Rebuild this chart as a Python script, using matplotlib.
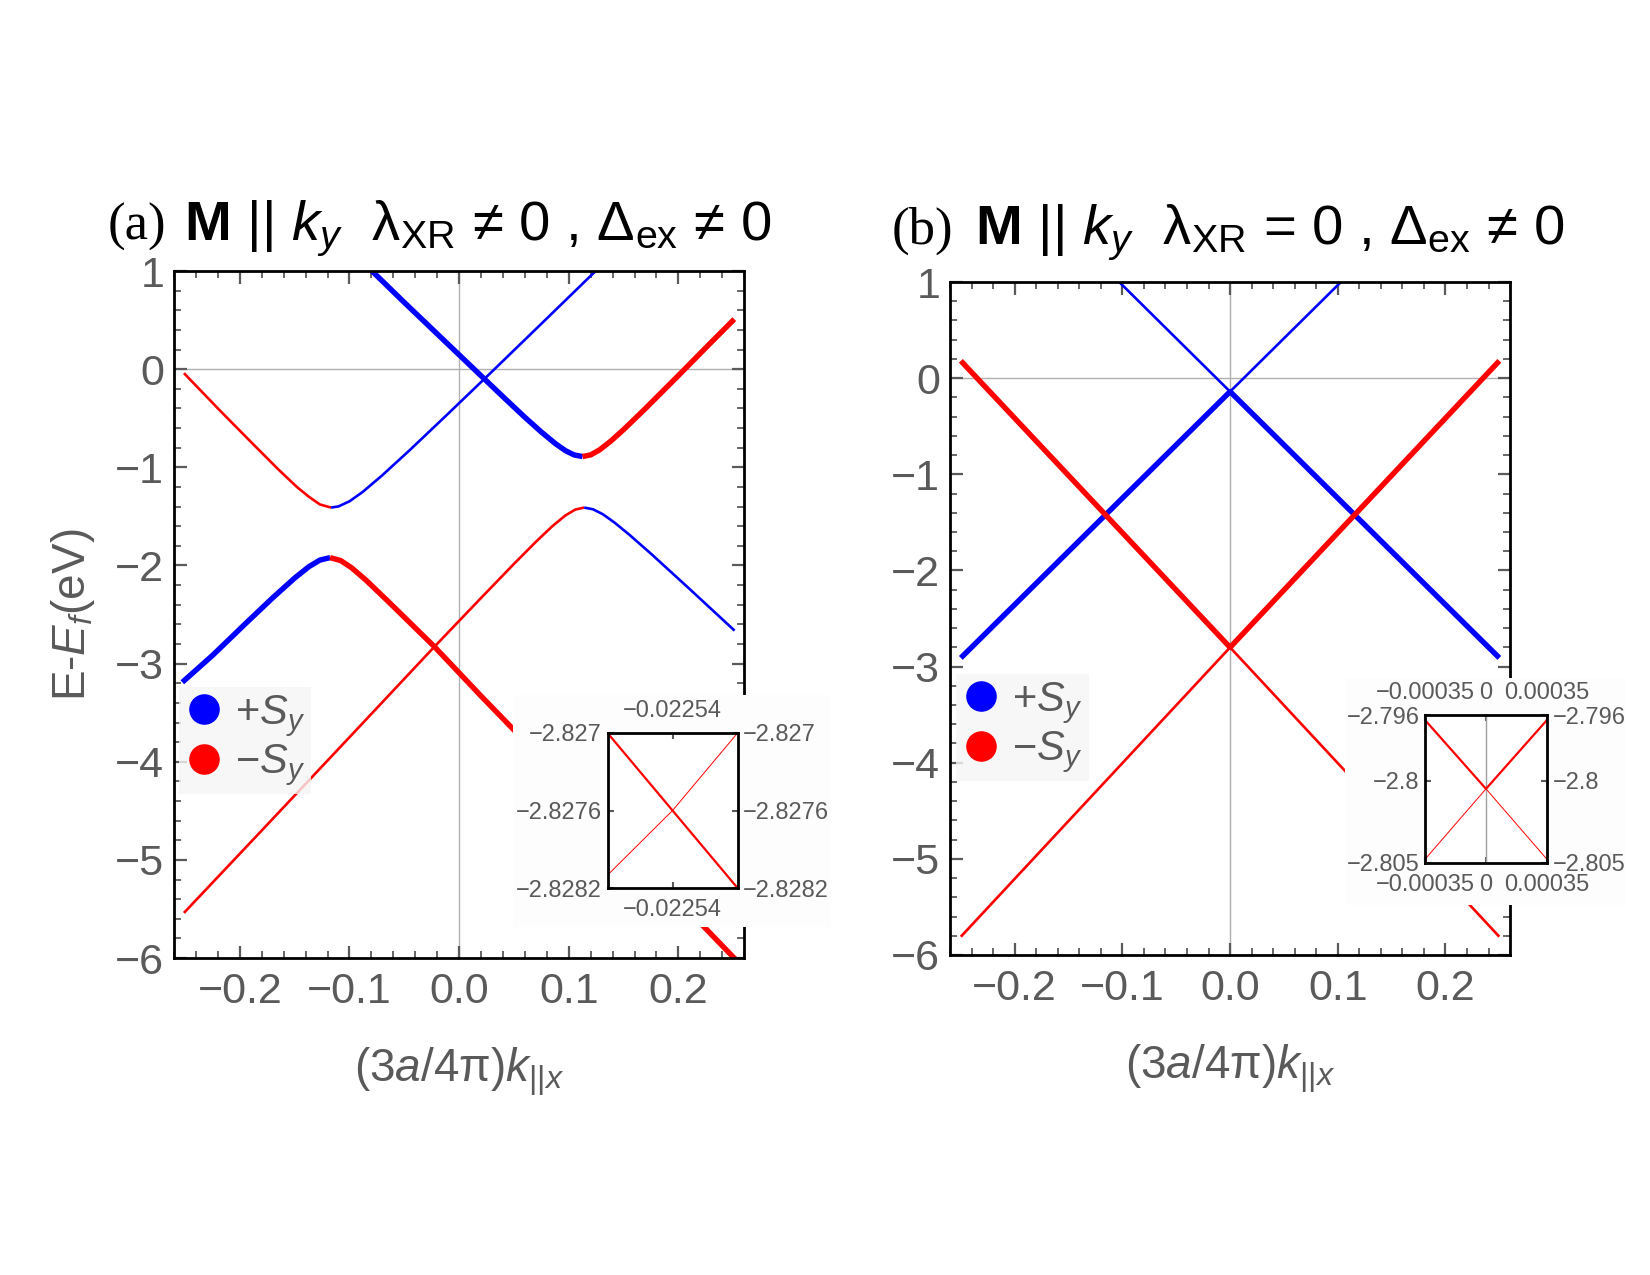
import matplotlib
matplotlib.use("Agg")
import matplotlib.pyplot as plt
from matplotlib.lines import Line2D
from matplotlib.ticker import MultipleLocator

plt.rcParams['font.family'] = ['Liberation Sans', 'DejaVu Sans']
plt.rcParams['mathtext.fontset'] = 'custom'
plt.rcParams['mathtext.rm'] = 'Liberation Sans'
plt.rcParams['mathtext.it'] = 'Liberation Sans:italic'
plt.rcParams['mathtext.bf'] = 'Liberation Sans:bold'
plt.rcParams['axes.unicode_minus'] = True

# ---------------- data: panel (a) ----------------
a_A_blue_x = [-0.084, -0.050, -0.020, 0.010, 0.040, 0.060, 0.075, 0.088, 0.097, 0.105, 0.1126]
a_A_blue_y = [1.05, 0.68, 0.36, 0.04, -0.28, -0.49, -0.64, -0.76, -0.83, -0.874, -0.89]
a_A_red_x = [0.1126, 0.120, 0.128, 0.138, 0.150, 0.170, 0.200, 0.230, 0.251]
a_A_red_y = [-0.89, -0.873, -0.823, -0.736, -0.616, -0.40, -0.065, 0.275, 0.51]

a_B_red_x = [-0.251, -0.220, -0.190, -0.165, -0.148, -0.137, -0.127, -0.1168]
a_B_red_y = [-0.04, -0.40, -0.74, -1.02, -1.20, -1.30, -1.378, -1.41]
a_B_blue_x = [-0.1168, -0.110, -0.100, -0.088, -0.070, -0.045, -0.010, 0.030, 0.080, 0.130]
a_B_blue_y = [-1.41, -1.398, -1.346, -1.251, -1.08, -0.824, -0.453, -0.024, 0.517, 1.06]

a_C_blue_x = [-0.2525, -0.225, -0.195, -0.170, -0.150, -0.137, -0.127, -0.1177]
a_C_blue_y = [-3.19, -2.917, -2.594, -2.329, -2.128, -2.012, -1.945, -1.92]
a_C_red_x = [-0.1177, -0.108, -0.098, -0.085, -0.065, -0.0225, 0.020, 0.080, 0.140, 0.200, 0.252]
a_C_red_y = [-1.92, -1.95, -2.024, -2.149, -2.363, -2.8276, -3.33, -4.022, -4.716, -5.411, -6.013]

a_D_red_x = [-0.251, -0.180, -0.100, -0.0225, 0.020, 0.050, 0.070, 0.085, 0.097, 0.106, 0.1141]
a_D_red_y = [-5.54, -4.70, -3.75, -2.8276, -2.331, -1.984, -1.759, -1.60, -1.49, -1.43, -1.41]
a_D_blue_x = [0.1141, 0.122, 0.131, 0.142, 0.155, 0.175, 0.210, 0.2513]
a_D_blue_y = [-1.41, -1.427, -1.477, -1.565, -1.684, -1.88, -2.237, -2.664]

# ---------------- data: panel (b) ----------------
b_blue_thin_x = [-0.1047, 0.0, 0.1047]
b_blue_thin_y = [1.02, -0.14, 1.02]
b_blue_thick_x = [-0.25, 0.0, 0.25]
b_blue_thick_y = [-2.91, -0.14, -2.91]
b_red_thick_x = [-0.25, 0.0, 0.25]
b_red_thick_y = [0.18, -2.8006, 0.18]
b_red_thin_x = [-0.25, 0.0, 0.25]
b_red_thin_y = [-5.81, -2.8006, -5.81]

# ---------------- data: insets ----------------
ins_a_x = [-0.022592, -0.02254, -0.022488]
ins_a_thick_y = [-2.827, -2.8276, -2.8282]
ins_a_thin_y = [-2.8281, -2.8276, -2.827]
ins_a_xticks = [-0.02254]
ins_a_yticks = [-2.8282, -2.8276, -2.827]

ins_b_x = [-0.00035, 0.0, 0.00035]
ins_b_thick_y = [-2.7963, -2.8005, -2.7963]
ins_b_thin_y = [-2.8048, -2.8005, -2.8048]
ins_b_xticks = [-0.00035, 0, 0.00035]
ins_b_yticks = [-2.805, -2.8, -2.796]

main_xticks = [-0.2, -0.1, 0.0, 0.1, 0.2]
main_yticks = [1, 0, -1, -2, -3, -4, -5, -6]
legend_labels = ["+$S_y$", "\u2212$S_y$"]

BLUE = (0, 0, 1)
RED = (1, 0, 0)
GRAY = '#5a5a5a'
THICK = 3.9
THIN = 1.9

fig = plt.figure(figsize=(16.5, 12.75), dpi=100)


def style_main(ax):
    ax.set_xlim(-0.26, 0.26)
    ax.set_ylim(-6, 1)
    ax.set_xticks(main_xticks)
    ax.set_yticks(main_yticks)
    ax.xaxis.set_minor_locator(MultipleLocator(0.02))
    ax.yaxis.set_minor_locator(MultipleLocator(0.2))
    ax.tick_params(which='both', direction='in', top=True, right=True,
                   color=GRAY, labelcolor=GRAY, labelsize=31)
    ax.tick_params(which='major', length=9, width=1.6)
    ax.tick_params(which='minor', length=5, width=1.3)
    ax.tick_params(axis='x', pad=10)
    ax.tick_params(axis='y', pad=7)
    for s in ax.spines.values():
        s.set_linewidth(2.0)
        s.set_color('black')
    ax.axhline(0, color='#b0b0b0', lw=1.0, zorder=0.5)
    ax.axvline(0, color='#b0b0b0', lw=1.0, zorder=0.5)
    ax.set_xlabel("(3$a$/4π)$k_{||x}$", fontsize=33, color=GRAY, labelpad=24)


def add_legend(ax, anchor):
    handles = [Line2D([], [], ls='', marker='o', markersize=21, color=BLUE),
               Line2D([], [], ls='', marker='o', markersize=21, color=RED)]
    leg = ax.legend(handles, legend_labels, loc='upper left', bbox_to_anchor=anchor,
                    fontsize=30, handlelength=0.9, handletextpad=0.3,
                    labelspacing=0.08, borderpad=0.15, frameon=True,
                    fancybox=False, borderaxespad=0)
    leg.get_frame().set_facecolor('#f6f6f6')
    leg.get_frame().set_edgecolor('none')
    for t in leg.get_texts():
        t.set_color(GRAY)


def fmt(v):
    return f"{v:g}".replace('-', '\u2212')


def style_inset(ax, xticks, yticks):
    ax.set_xticks(xticks, labels=[fmt(v) for v in xticks])
    ax.set_yticks(yticks, labels=[fmt(v) for v in yticks])
    ax.tick_params(direction='in', top=True, right=True, labeltop=True, labelright=True,
                   length=4, width=1.5, color=GRAY, labelcolor=GRAY, labelsize=17)
    ax.tick_params(axis='x', pad=8)
    ax.tick_params(axis='y', pad=4)
    for s in ax.spines.values():
        s.set_linewidth(2.0)
        s.set_color('black')
    ax.set_facecolor('white')


# ---------------- panel (a) ----------------
axa = fig.add_axes([0.1055, 0.2486, 0.3455, 0.5388])
style_main(axa)
axa.plot(a_B_red_x, a_B_red_y, color=RED, lw=THIN, solid_capstyle='butt')
axa.plot(a_B_blue_x, a_B_blue_y, color=BLUE, lw=THIN, solid_capstyle='butt')
axa.plot(a_D_red_x, a_D_red_y, color=RED, lw=THIN, solid_capstyle='butt')
axa.plot(a_D_blue_x, a_D_blue_y, color=BLUE, lw=THIN, solid_capstyle='butt')
axa.plot(a_A_blue_x, a_A_blue_y, color=BLUE, lw=THICK, solid_capstyle='butt')
axa.plot(a_A_red_x, a_A_red_y, color=RED, lw=THICK, solid_capstyle='butt')
axa.plot(a_C_blue_x, a_C_blue_y, color=BLUE, lw=THICK, solid_capstyle='butt')
axa.plot(a_C_red_x, a_C_red_y, color=RED, lw=THICK, solid_capstyle='butt')
axa.set_ylabel("E-$E_f$(eV)", fontsize=33, color=GRAY, labelpad=13)
add_legend(axa, (0.008, 0.395))

# ---------------- panel (b) ----------------
axb = fig.add_axes([0.5758, 0.2510, 0.3394, 0.5278])
style_main(axb)
axb.plot(b_blue_thin_x, b_blue_thin_y, color=BLUE, lw=THIN, solid_capstyle='butt')
axb.plot(b_red_thin_x, b_red_thin_y, color=RED, lw=THIN, solid_capstyle='butt')
axb.plot(b_blue_thick_x, b_blue_thick_y, color=BLUE, lw=THICK, solid_capstyle='butt')
axb.plot(b_red_thick_x, b_red_thick_y, color=RED, lw=THICK, solid_capstyle='butt')
add_legend(axb, (0.011, 0.418))

# ---------------- inset backgrounds ----------------
for rect in ([0.3109, 0.2729, 0.1927, 0.182], [0.8152, 0.2900, 0.170, 0.178]):
    bg = fig.add_axes(rect)
    bg.set_facecolor('#fdfdfd')
    bg.set_xticks([])
    bg.set_yticks([])
    for s in bg.spines.values():
        s.set_visible(False)

# ---------------- inset (a) ----------------
ia = fig.add_axes([0.3682, 0.3035, 0.0788, 0.1216])
ia.set_xlim(ins_a_x[0], ins_a_x[-1])
ia.set_ylim(ins_a_yticks[0], ins_a_yticks[-1])
ia.plot(ins_a_x, ins_a_thin_y, color=RED, lw=0.7)
ia.plot(ins_a_x, ins_a_thick_y, color=RED, lw=1.6)
style_inset(ia, ins_a_xticks, ins_a_yticks)

# ---------------- inset (b) ----------------
ib = fig.add_axes([0.8636, 0.3234, 0.0740, 0.1158])
ib.set_xlim(ins_b_x[0], ins_b_x[-1])
ib.set_ylim(ins_b_yticks[0], ins_b_yticks[-1])
ib.axvline(0, color='#a0a0a0', lw=1.0)
ib.plot(ins_b_x, ins_b_thin_y, color=RED, lw=0.7)
ib.plot(ins_b_x, ins_b_thick_y, color=RED, lw=1.6)
style_inset(ib, ins_b_xticks, ins_b_yticks)

# ---------------- titles ----------------
fig.text(0.0655, 0.8118, "(a)", family='Liberation Serif', fontsize=38, color='black', va='baseline')
fig.text(0.1115, 0.8118, r"$\mathbf{M}$ || $k_y$  λ$_\mathrm{XR}$ ≠ 0 , Δ$_\mathrm{ex}$ ≠ 0",
         fontsize=40.5, color='black', va='baseline')
fig.text(0.5406, 0.8086, "(b)", family='Liberation Serif', fontsize=38, color='black', va='baseline')
fig.text(0.5912, 0.8086, r"$\mathbf{M}$ || $k_y$  λ$_\mathrm{XR}$ = 0 , Δ$_\mathrm{ex}$ ≠ 0",
         fontsize=40.5, color='black', va='baseline')

fig.savefig("out.png", dpi=100, facecolor='white')
